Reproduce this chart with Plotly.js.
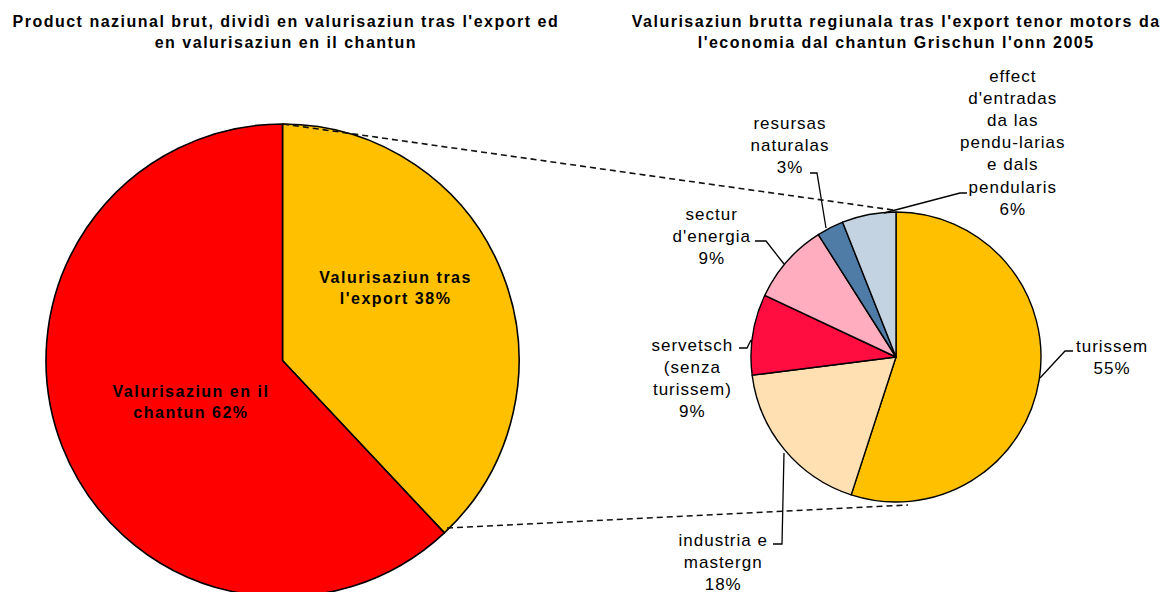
<!DOCTYPE html>
<html>
<head>
<meta charset="utf-8">
<script src="https://cdn.plot.ly/plotly-3.0.1.min.js"></script>
<style>
  html, body { margin: 0; padding: 0; overflow: hidden; background: #fff; }
  #chart { width: 1169px; height: 600px; }
  #chart g.annotation text { letter-spacing: 1px; }
  #chart g.annotation[data-index="0"] text,
  #chart g.annotation[data-index="1"] text,
  #chart g.annotation[data-index="2"] text,
  #chart g.annotation[data-index="3"] text { letter-spacing: 1.5px; }
</style>
</head>
<body>
<div id="chart"></div>
<script>
// ---- data ----
const leftTitle = "Product naziunal brut, dividì en valurisaziun tras l'export ed<br>en valurisaziun en il chantun";
const rightTitle = "Valurisaziun brutta regiunala tras l'export tenor motors da<br>l'economia dal chantun Grischun l'onn 2005";

const leftLabels = ["Valurisaziun tras<br>l'export", "Valurisaziun en il<br>chantun"];
const leftValues = [38, 62];
const leftColors = ["#FFC000", "#FF0000"];

const rightLabels = ["turissem", "industria e<br>mastergn", "servetsch<br>(senza<br>turissem)",
                     "sectur<br>d'energia", "resursas<br>naturalas",
                     "effect<br>d'entradas<br>da las<br>pendu-larias<br>e dals<br>pendularis"];
const rightValues = [55, 18, 9, 9, 3, 6];
const rightColors = ["#FFC000", "#FFE0B2", "#FF0D40", "#FFADBF", "#4F7BA7", "#C3D3E2"];

// ---- layout helpers (pixel -> paper) ----
const W = 1169, H = 600;
const px = x => x / W;
const py = y => (H - y) / H;

const FONT = "Liberation Sans, Arial, sans-serif";

const traces = [
  {
    type: "pie", labels: leftLabels, values: leftValues, sort: false,
    direction: "clockwise", rotation: 0,
    marker: { colors: leftColors, line: { color: "#000", width: 1.6 } },
    textinfo: "none", hoverinfo: "skip", showlegend: false,
    domain: { x: [px(46), px(519)], y: [py(597), py(124)] }
  },
  {
    type: "pie", labels: rightLabels, values: rightValues, sort: false,
    direction: "clockwise", rotation: 0,
    marker: { colors: rightColors, line: { color: "#000", width: 1.4 } },
    textinfo: "none", hoverinfo: "skip", showlegend: false,
    domain: { x: [px(751), px(1041)], y: [py(502), py(212)] }
  }
];

function ann(text, x, y, size, bold, align) {
  return {
    text: text, xref: "paper", yref: "paper", x: px(x), y: py(y),
    xanchor: "center", yanchor: "middle", showarrow: false, align: align || "center",
    font: { family: FONT, size: size, color: "#000", weight: bold ? "bold" : "normal" }
  };
}

const annotations = [
  ann(leftTitle, 286, 32, 16, true),
  ann(rightTitle, 896, 32, 16, true),
  ann(leftLabels[0] + " " + leftValues[0] + "%", 395, 288, 16, true),
  ann(leftLabels[1] + " " + leftValues[1] + "%", 191, 402, 16, true)
];

// right label centres (pixels)
const rightLabelPos = [[1112, 357], [723, 562], [692, 378], [712, 236], [790, 146], [1013, 143]];
rightLabels.forEach((l, i) => {
  annotations.push(ann(l + "<br>" + rightValues[i] + "%", rightLabelPos[i][0], rightLabelPos[i][1], 17, false));
});

// leader lines (pixel polylines)
const leaders = [
  [[1073, 351], [1065, 351], [1040, 378]],
  [[773, 544], [782, 544], [784, 453]],
  [[739, 348], [747, 348], [751, 340]],
  [[755, 241], [766, 241], [784, 264]],
  [[810, 173], [817, 173], [826, 228]],
  [[967, 193], [960, 193], [884, 213]]
];

const shapes = leaders.map(pts => ({
  type: "path", xref: "paper", yref: "paper",
  path: pts.map((p, i) => (i ? "L" : "M") + px(p[0]) + "," + py(p[1])).join(" "),
  line: { color: "#000", width: 1.3 }
}));

shapes.push(
  { type: "line", xref: "paper", yref: "paper", x0: px(283), y0: py(124), x1: px(893), y1: py(210),
    line: { color: "#111", width: 1.6, dash: "6px,4px" } },
  { type: "line", xref: "paper", yref: "paper", x0: px(447), y0: py(528), x1: px(908), y1: py(505),
    line: { color: "#111", width: 1.6, dash: "6px,4px" } }
);

const layout = {
  width: W, height: H,
  margin: { l: 0, r: 0, t: 0, b: 0 },
  paper_bgcolor: "#fff", plot_bgcolor: "#fff",
  showlegend: false,
  annotations: annotations,
  shapes: shapes,
  font: { family: FONT }
};

Plotly.newPlot("chart", traces, layout, { staticPlot: true, displayModeBar: false });
</script>
</body>
</html>
